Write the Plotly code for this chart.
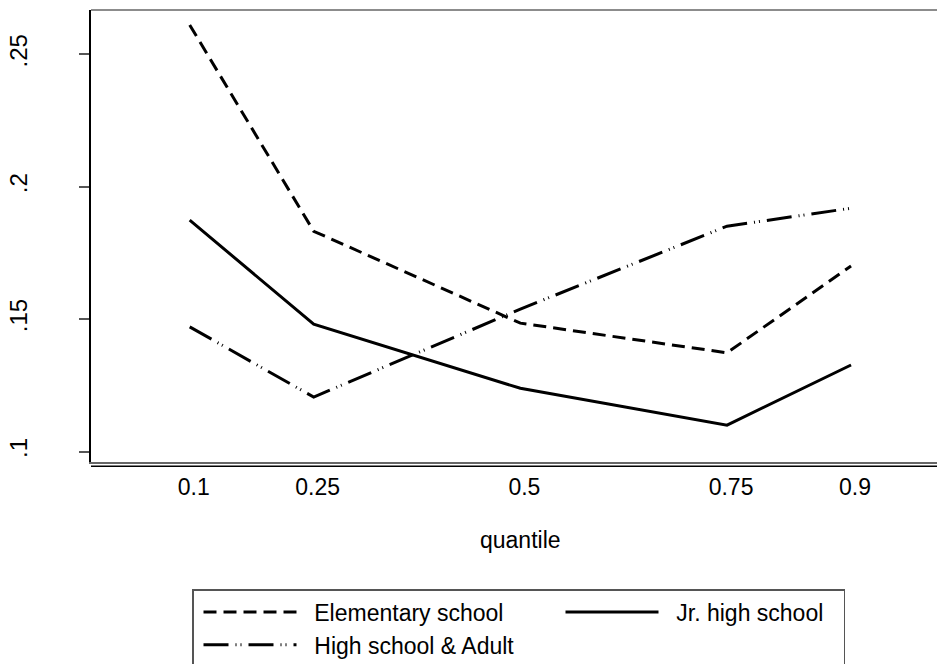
import plotly.graph_objects as go

quantiles = [0.1, 0.25, 0.5, 0.75, 0.9]
x_tick_labels = ["0.1", "0.25", "0.5", "0.75", "0.9"]
y_tick_vals = [0.1, 0.15, 0.2, 0.25]
y_tick_labels = [".1", ".15", ".2", ".25"]

elementary = [0.2611, 0.1832, 0.1485, 0.1373, 0.1701]
jr_high = [0.1874, 0.1481, 0.1239, 0.1100, 0.1327]
high_adult = [0.1471, 0.1206, 0.1538, 0.1851, 0.1919]

FONT = "Liberation Sans, Arial, sans-serif"
ITEMW = 93
PAD = "\u00a0\u00a0"

fig = go.Figure()
fig.add_trace(go.Scatter(x=quantiles, y=elementary, mode="lines", name=PAD + "Elementary school",
                         line=dict(color="black", width=3, dash="13px,7px"),
                         legendwidth=249))
fig.add_trace(go.Scatter(x=quantiles, y=jr_high, mode="lines", name=PAD + "Jr. high school",
                         line=dict(color="black", width=3), legendwidth=175))
fig.add_trace(go.Scatter(x=quantiles, y=high_adult, mode="lines", name=PAD + "High school &amp; Adult",
                         line=dict(color="black", width=3, dash="25px,7px,1px,4px,1px,7px")))

fig.update_layout(
    width=937, height=664,
    margin=dict(l=91, r=0, t=10, b=202, autoexpand=False),
    plot_bgcolor="white", paper_bgcolor="white",
    font=dict(family=FONT, size=23, color="black"),
    showlegend=True,
    legend=dict(orientation="h", x=(192 - 91) / 846, xanchor="left",
                y=-(589 - 462) / 452, yanchor="top",
                bordercolor="#555555", borderwidth=1.5, bgcolor="white",
                itemwidth=ITEMW, font=dict(size=23, family=FONT), indentation=5),
    xaxis=dict(range=[-0.0194, 1.004], tickvals=quantiles, ticktext=x_tick_labels,
               showgrid=False, zeroline=False, showline=True, linecolor="#666666", linewidth=1.5,
               ticks="", tickfont=dict(size=23), ticklabelshift=4, ticklabelstandoff=4,
               automargin=False),
    yaxis=dict(range=[0.09607, 0.26674], tickvals=y_tick_vals, ticktext=y_tick_labels,
               showgrid=False, zeroline=False, showline=True, linecolor="black", linewidth=1.5,
               ticks="outside", ticklen=10, tickwidth=1.5, tickcolor="#555555",
               tickangle=-90, tickfont=dict(size=24), ticklabelstandoff=43, automargin=False),
    shapes=[
        dict(type="line", xref="paper", yref="paper", x0=0, x1=1, y0=1, y1=1,
             line=dict(color="#666666", width=1.5)),
        dict(type="line", xref="paper", yref="paper", x0=0, x1=1, y0=-0.0095, y1=-0.0095,
             line=dict(color="black", width=1.5)),
    ],
    annotations=[
        dict(text="quantile", xref="x", yref="paper", x=0.5, y=-(540 - 462) / 452,
             showarrow=False, yanchor="middle", xanchor="center", font=dict(size=23)),
    ],
)

fig.write_html("out.html", config={"displayModeBar": False},
               post_script="document.body.style.margin='0';document.body.style.overflow='hidden';")
